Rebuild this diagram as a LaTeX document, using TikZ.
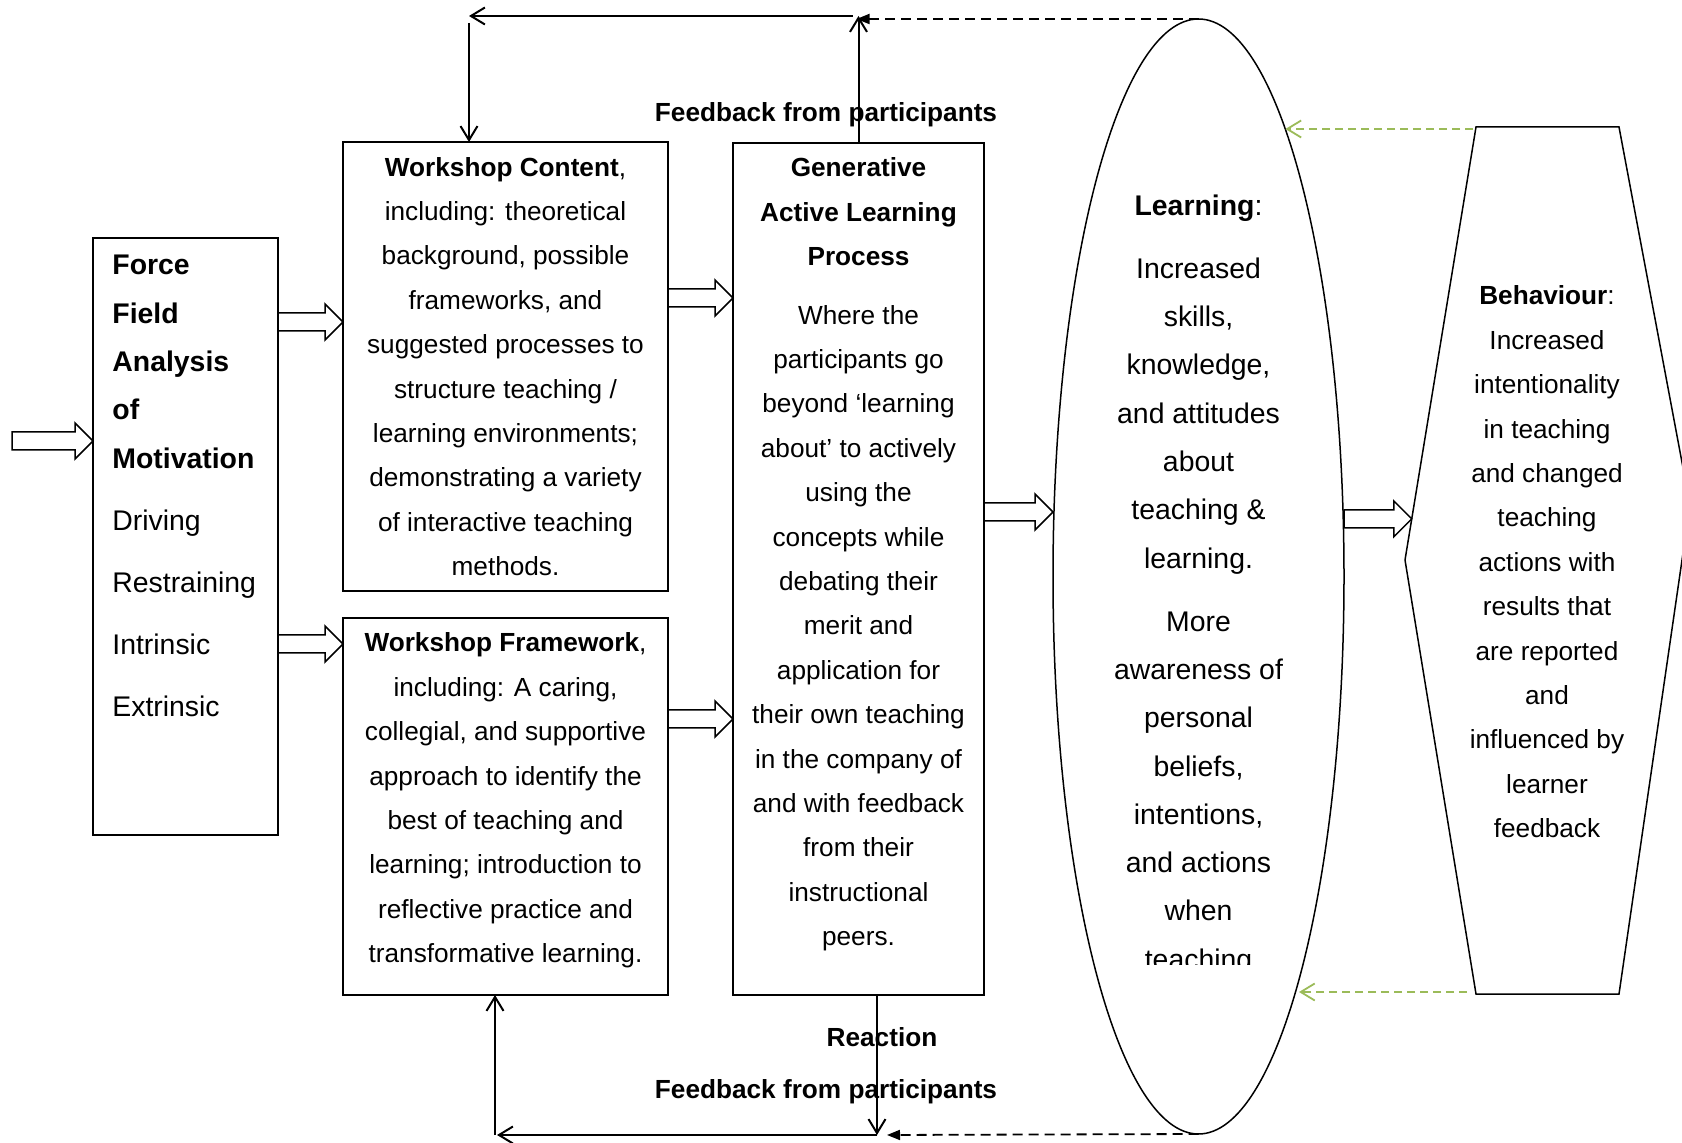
\documentclass[tikz,border=0pt]{standalone}
\usepackage{fontspec}
\setmainfont{Liberation Sans}
\usetikzlibrary{positioning,calc,shapes,arrows.meta}
\definecolor{leafgreen}{HTML}{9BBB59}

\newcommand{\fatarrow}[2]{%
  \draw[fat] ($(#1)+(0,-9)$) -- ($(#2)+(-18,-9)$) -- ($(#2)+(-18,-18)$) -- (#2)
    -- ($(#2)+(-18,18)$) -- ($(#2)+(-18,9)$) -- ($(#1)+(0,9)$) -- cycle;}

\begin{document}
\begin{tikzpicture}[
        x=0.5pt, y=-0.5pt,
        block/.style={draw, line width=0.75pt, inner sep=0pt, outer sep=0pt},
        blocktext/.style={align=center, inner sep=0pt, font=\fontsize{13.1}{22.2}\selectfont},
        bigtext/.style={align=center, inner sep=0pt, font=\fontsize{14.2}{24.15}\selectfont},
        tag/.style={inner sep=0pt, font=\fontsize{13.1}{15}\selectfont\bfseries},
        fat/.style={draw, line width=0.75pt, fill=white},
        link/.style={line width=1pt, -{Straight Barb[length=7pt,width=8.5pt]}},
        back/.style={line width=0.9pt, dash pattern=on 5pt off 3pt, -{Triangle[length=6.5pt,width=5pt]}},
        greenback/.style={leafgreen, line width=0.9pt, dash pattern=on 4pt off 2.5pt, -{Straight Barb[length=7pt,width=8.5pt]}}
      ]
      \useasboundingbox (0,0) rectangle (1682,1143);
      \clip (0,0) rectangle (1682,1143);

      \node (force) [block, minimum width=92.5pt, minimum height=298.5pt] at (185.5,536.5) {};
      \node (forcetext) [anchor=west, align=left, inner sep=0pt, font=\fontsize{14.2}{24.15}\selectfont] at (112,486)
        {\textbf{Force}\\ \textbf{Field}\\ \textbf{Analysis}\\ \textbf{of}\\ \textbf{Motivation}\\[6.9pt]
         Driving\\[6.9pt] Restraining\\[6.9pt] Intrinsic\\[6.9pt] Extrinsic};

      \node (content) [block, blocktext, minimum width=162.5pt, minimum height=224.5pt] at (505.5,366.5)
        {\textbf{Workshop Content},\\ including: theoretical\\ background, possible\\ frameworks, and\\
         suggested processes to\\ structure teaching /\\ learning environments;\\
         demonstrating a variety\\ of interactive teaching\\ methods.};

      \node (frame) [block, minimum width=162.5pt, minimum height=188.5pt] at (505.5,806.5) {};
      \node (frametext) [blocktext] at (505.5,800.5)
        {\textbf{Workshop Framework},\\ including: A caring,\\ collegial, and supportive\\
         approach to identify the\\ best of teaching and\\ learning; introduction to\\
         reflective practice and\\ transformative learning.};

      \node (gen) [block, minimum width=125.5pt, minimum height=426pt] at (858.5,569) {};
      \node (gentext) [blocktext] at (858.5,554.5)
        {\textbf{Generative}\\ \textbf{Active Learning}\\ \textbf{Process}\\[7pt]
         Where the\\ participants go\\ beyond ‘learning\\ about’ to actively\\ using the\\
         concepts while\\ debating their\\ merit and\\ application for\\ their own teaching\\
         in the company of\\ and with feedback\\ from their\\ instructional\\ peers.};

      \node (learn) [draw, ellipse, line width=0.75pt, inner sep=0pt, outer sep=0pt,
        minimum width=145.5pt, minimum height=557.5pt] at (1198.5,576.5) {};
      \begin{scope}
        \clip (1060,150) rectangle (1340,964);
        \node (learntext) [bigtext] at (1198.5,585)
          {\textbf{Learning}:\\[7.35pt] Increased\\ skills,\\ knowledge,\\ and attitudes\\ about\\
           teaching \&\\ learning.\\[7.35pt] More\\ awareness of\\ personal\\ beliefs,\\
           intentions,\\ and actions\\ when\\ teaching};
      \end{scope}

      \coordinate (btl) at (1476,127);
      \coordinate (btr) at (1619,127);
      \coordinate (bright) at (1690,505);
      \coordinate (bbr) at (1619,994);
      \coordinate (bbl) at (1476,994);
      \coordinate (bleft) at (1405,560);
      \draw[line width=0.75pt] (btl) -- (btr) -- (bright) -- (bbr) -- (bbl) -- (bleft) -- cycle;
      \node (behtext) [blocktext] at (1547,562)
        {\textbf{Behaviour}:\\ Increased\\ intentionality\\ in teaching\\ and changed\\ teaching\\
         actions with\\ results that\\ are reported\\ and\\ influenced by\\ learner\\ feedback};

      \coordinate (in) at (12,441);
      \coordinate (behin) at ($(bleft)!0.095!(btl)$);
      \fatarrow{in}{in -| force.west}
      \fatarrow{force.east |- 0,322}{content.west |- 0,322}
      \fatarrow{force.east |- 0,644}{frame.west |- 0,644}
      \fatarrow{content.east |- 0,298}{gen.west |- 0,298}
      \fatarrow{frame.east |- 0,719}{gen.west |- 0,719}
      \fatarrow{gen.east |- 0,512}{learn.west |- 0,512}
      \fatarrow{learn.east |- behin}{behin}

      \coordinate (fbtop) at (gen.north |- 0,16);
      \coordinate (fbtopl) at (469,16);
      \draw[link] (gen.north) -- (fbtop);
      \draw[link] ($(fbtop)+(-6,0)$) -- (fbtopl);
      \draw[link] ($(fbtopl)+(0,7)$) -- (fbtopl |- content.north);
      \draw[back] (learn.north) -- ($(learn.north -| fbtop)+(-2,0)$);

      \coordinate (fbbot) at (877,1135);
      \coordinate (fbbotl) at (495,1135);
      \draw[link] (fbbot |- gen.south) -- (fbbot);
      \draw[link] (fbbot) -- ($(fbbotl)+(2,0)$);
      \draw[link] (fbbotl) -- (fbbotl |- frame.south);
      \draw[back] (learn.south) -- ($(fbbot)+(10,0)$);

      \coordinate (gtop) at ($(btl)+(-3,2)$);
      \coordinate (gbot) at ($(bbl)+(-9,-2)$);
      \draw[greenback] (gtop) -- (gtop -| learn.79);
      \draw[greenback] (gbot) -- (gbot -| learn.-76);

      \node (fbtag) [tag] at (826,115) {Feedback from participants};
      \node (reacttag) [tag] at (882,1037) {Reaction};
      \node (fbtag2) [tag] at (826,1092) {Feedback from participants};

    \end{tikzpicture}
\end{document}
